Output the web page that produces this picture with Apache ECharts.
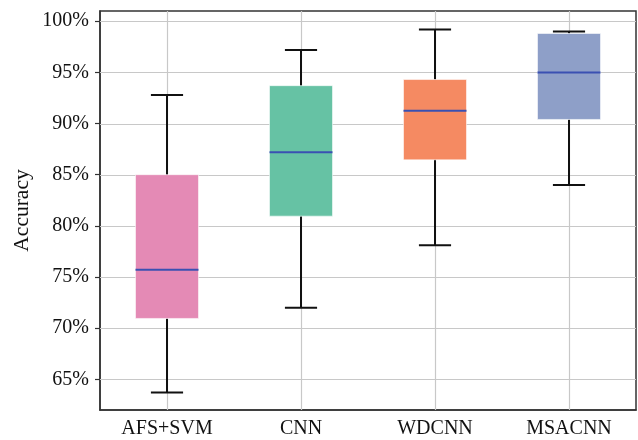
<!DOCTYPE html>
<html><head><meta charset="utf-8">
<script src="https://cdn.jsdelivr.net/npm/echarts@6/dist/echarts.min.js"></script>
<style>html,body{margin:0;padding:0;background:#fff}#c{width:638px;height:440px}</style>
</head><body><div id="c"></div>
<script>
const categories = ['AFS+SVM', 'CNN', 'WDCNN', 'MSACNN'];
const whiskerLow = [63.7, 72.0, 78.1, 84.0];
const q1 = [70.95, 80.95, 86.45, 90.4];
const median = [75.7, 87.2, 91.25, 95.0];
const q3 = [85.0, 93.7, 94.3, 98.8];
const whiskerHigh = [92.8, 97.2, 99.2, 99.0];
const yTicks = [65, 70, 75, 80, 85, 90, 95, 100];
const boxColors = ['#e48ab5', '#66c2a4', '#f58a62', '#8e9fc8'];
const yMin = 62, yMax = 101;

const data = categories.map((c, i) => [i, whiskerLow[i], q1[i], median[i], q3[i], whiskerHigh[i]]);
const FONT = '"Liberation Serif", "Times New Roman", serif';

const chart = echarts.init(document.getElementById('c'), null, {renderer: 'canvas'});
chart.setOption({
  animation: false,
  backgroundColor: '#fff',
  grid: {left: 100, right: 2, top: 11, bottom: 30, show: true, borderColor: '#333', borderWidth: 1.5, backgroundColor: 'transparent'},
  xAxis: {
    type: 'category', data: categories, boundaryGap: true,
    axisLine: {lineStyle: {color: '#333', width: 1.5}},
    axisTick: {alignWithLabel: true, length: 5, lineStyle: {color: '#333', width: 1.2}},
    axisLabel: {color: '#111', fontFamily: FONT, fontSize: 20, margin: 9},
    splitLine: {show: false}
  },
  yAxis: {
    type: 'value', min: yMin, max: yMax,
    name: 'Accuracy', nameLocation: 'middle', nameGap: 67, nameMoveOverlap: false,
    nameTextStyle: {color: '#111', fontFamily: FONT, fontSize: 21.5},
    axisLine: {show: true, lineStyle: {color: '#333', width: 1.5}},
    axisTick: {show: true, length: 5, customValues: yTicks, lineStyle: {color: '#333', width: 1.2}},
    axisLabel: {color: '#111', fontFamily: FONT, fontSize: 20, margin: 11, customValues: yTicks, formatter: v => v + '%'},
    splitLine: {show: false}
  },
  series: [{
    type: 'custom',
    data: data,
    encode: {x: 0, y: [1, 2, 3, 4, 5]},
    clip: false,
    renderItem: function (params, api) {
      const i = api.value(0);
      const band = api.size([1, 0])[0];
      const bw = band * 0.47, cw = band * 0.24;
      const x = api.coord([i, 0])[0];
      const pLow = api.coord([i, api.value(1)])[1];
      const pQ1 = api.coord([i, api.value(2)])[1];
      const pMed = api.coord([i, api.value(3)])[1];
      const pQ3 = api.coord([i, api.value(4)])[1];
      const pHigh = api.coord([i, api.value(5)])[1];
      const top = api.coord([i, yMax])[1], bot = api.coord([i, yMin])[1];
      const children = [];
      if (params.dataIndex === 0) {
        const cs = params.coordSys;
        yTicks.forEach(t => {
          const yy = Math.round(api.coord([0, t])[1]) + 0.5;
          children.push({type: 'line', shape: {x1: cs.x, y1: yy, x2: cs.x + cs.width, y2: yy}, style: {stroke: '#c8c8c8', lineWidth: 1.2}});
        });
      }
      const xx = Math.round(x) + 0.5;
      children.push({type: 'line', shape: {x1: xx, y1: top, x2: xx, y2: bot}, style: {stroke: '#c8c8c8', lineWidth: 1.2}});
      children.push({type: 'line', shape: {x1: x, y1: pQ3, x2: x, y2: pHigh}, style: {stroke: '#111', lineWidth: 2}});
      children.push({type: 'line', shape: {x1: x, y1: pQ1, x2: x, y2: pLow}, style: {stroke: '#111', lineWidth: 2}});
      children.push({type: 'rect', shape: {x: x - bw / 2, y: pQ3, width: bw, height: pQ1 - pQ3}, style: {fill: boxColors[i], stroke: 'rgba(255,255,255,0.55)', lineWidth: 1}});
      children.push({type: 'line', shape: {x1: x - bw / 2, y1: pMed, x2: x + bw / 2, y2: pMed}, style: {stroke: '#3a50b2', lineWidth: 2}});
      children.push({type: 'line', shape: {x1: x - cw / 2, y1: pHigh, x2: x + cw / 2, y2: pHigh}, style: {stroke: '#111', lineWidth: 2}});
      children.push({type: 'line', shape: {x1: x - cw / 2, y1: pLow, x2: x + cw / 2, y2: pLow}, style: {stroke: '#111', lineWidth: 2}});
      return {type: 'group', children: children};
    }
  }]
});
</script>
</body></html>
